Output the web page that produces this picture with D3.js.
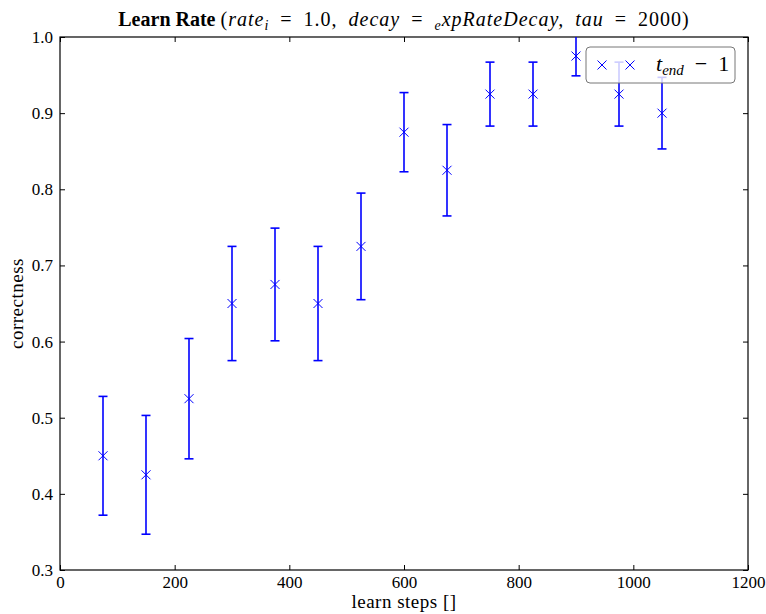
<!DOCTYPE html>
<html>
<head>
<meta charset="utf-8">
<script src="https://cdn.jsdelivr.net/npm/d3@7"></script>
<style>
  body { margin: 0; background: #fff; }
  svg text { font-family: "Liberation Serif", "DejaVu Serif", serif; fill: #000; }
</style>
</head>
<body>
<div id="chart"></div>
<script>
// data
var steps = [75, 150, 225, 300, 375, 450, 525, 600, 675, 750, 825, 900, 975, 1050];
var correctness = [0.45, 0.425, 0.525, 0.65, 0.675, 0.65, 0.725, 0.875, 0.825, 0.925, 0.925, 0.975, 0.925, 0.9];
var errs = [0.078, 0.078, 0.079, 0.075, 0.074, 0.075, 0.07, 0.052, 0.06, 0.042, 0.042, 0.026, 0.042, 0.047];
var xTicks = [0, 200, 400, 600, 800, 1000, 1200];
var yTicks = [0.3, 0.4, 0.5, 0.6, 0.7, 0.8, 0.9, 1.0];

var W = 766, H = 614;
var m = {left: 60, right: 18, top: 37, bottom: 44};
var pw = W - m.left - m.right, ph = H - m.top - m.bottom;
var blue = "#0000ff";
var sp = "\u2002"; // wider space, like math spacing

var svg = d3.select("#chart").append("svg")
  .attr("width", W).attr("height", H);

var x = d3.scaleLinear().domain([0, 1200]).range([0, pw]);
var y = d3.scaleLinear().domain([0.3, 1.0]).range([ph, 0]);

var g = svg.append("g").attr("transform", "translate(" + m.left + "," + m.top + ")");

g.append("clipPath").attr("id", "clip")
  .append("rect").attr("width", pw).attr("height", ph);

// axes, ticks pointing inward on all four sides
function styleAxis(sel){
  sel.select(".domain").remove();
  sel.selectAll(".tick line").attr("stroke", "#000").attr("stroke-width", 1);
  sel.selectAll(".tick text").style("font-size", "17px");
}
g.append("g").attr("transform", "translate(0," + ph + ")")
  .call(d3.axisBottom(x).tickValues(xTicks).tickSize(-5).tickPadding(6).tickFormat(d3.format("d")))
  .call(styleAxis);
g.append("g")
  .call(d3.axisTop(x).tickValues(xTicks).tickSize(-5).tickFormat(""))
  .call(styleAxis);
g.append("g")
  .call(d3.axisLeft(y).tickValues(yTicks).tickSize(-5).tickPadding(7).tickFormat(d3.format(".1f")))
  .call(styleAxis);
g.append("g").attr("transform", "translate(" + pw + ",0)")
  .call(d3.axisRight(y).tickValues(yTicks).tickSize(-5).tickFormat(""))
  .call(styleAxis);

g.append("rect").attr("width", pw).attr("height", ph)
  .attr("fill", "none").attr("stroke", "#000").attr("stroke-width", 1.2);

// error bars + markers
var pts = g.append("g").attr("clip-path", "url(#clip)")
  .selectAll("g").data(steps).enter().append("g");

pts.append("line")
  .attr("x1", function(d){ return x(d); }).attr("x2", function(d){ return x(d); })
  .attr("y1", function(d, i){ return y(correctness[i] + errs[i]); })
  .attr("y2", function(d, i){ return y(correctness[i] - errs[i]); })
  .attr("stroke", blue).attr("stroke-width", 1.6);
[1, -1].forEach(function(s){
  pts.append("line")
    .attr("x1", function(d){ return x(d) - 4.5; }).attr("x2", function(d){ return x(d) + 4.5; })
    .attr("y1", function(d, i){ return y(correctness[i] + s * errs[i]); })
    .attr("y2", function(d, i){ return y(correctness[i] + s * errs[i]); })
    .attr("stroke", blue).attr("stroke-width", 1.6);
});
pts.append("path")
  .attr("d", "M-4.5,-4.5L4.5,4.5M-4.5,4.5L4.5,-4.5")
  .attr("transform", function(d, i){ return "translate(" + x(d) + "," + y(correctness[i]) + ")"; })
  .attr("stroke", blue).attr("stroke-width", 1).attr("fill", "none");

// legend
var lg = svg.append("g").attr("transform", "translate(586,47)");
lg.append("rect").attr("width", 149).attr("height", 36).attr("rx", 4)
  .attr("fill", "#fff").attr("fill-opacity", 0.8)
  .attr("stroke", "#777").attr("stroke-width", 1);
[16, 44].forEach(function(cx){
  lg.append("path").attr("d", "M-4.5,-4.5L4.5,4.5M-4.5,4.5L4.5,-4.5")
    .attr("transform", "translate(" + cx + ",18)")
    .attr("stroke", blue).attr("stroke-width", 1).attr("fill", "none");
});
var lt = lg.append("text").attr("x", 70).attr("y", 24).style("font-size", "22px");
lt.append("tspan").style("font-style", "italic").text("t");
lt.append("tspan").style("font-style", "italic").style("font-size", "15px").attr("dy", 4).text("end");
lt.append("tspan").attr("dy", -4).text(sp + "\u2212" + sp + "1");

// title
var tt = svg.append("text").attr("x", m.left + pw / 2).attr("y", 26)
  .attr("text-anchor", "middle").style("font-size", "20px");
tt.append("tspan").style("font-weight", "bold").text("Learn Rate ");
var mt = function(){ return tt.append("tspan").style("letter-spacing", "1px"); };
mt().text("(");
mt().style("font-style", "italic").text("rate");
mt().style("font-style", "italic").style("font-size", "14px").attr("dy", 4).text("i");
mt().attr("dy", -4).text(sp + "=" + sp + "1.0," + sp);
mt().style("font-style", "italic").text("decay");
mt().text(sp + "=" + sp);
mt().style("font-style", "italic").style("font-size", "14px").attr("dy", 4).text("e");
mt().style("font-style", "italic").attr("dy", -4).text("xpRateDecay,");
mt().text(sp);
mt().style("font-style", "italic").text("tau");
mt().text(sp + "=" + sp + "2000)");

// axis labels
svg.append("text").attr("x", m.left + pw / 2).attr("y", 608)
  .attr("text-anchor", "middle").style("font-size", "19px").style("letter-spacing", "0.5px")
  .text("learn steps []");
svg.append("text").attr("transform", "translate(23," + (m.top + ph / 2) + ") rotate(-90)")
  .attr("text-anchor", "middle").style("font-size", "19px").style("letter-spacing", "0.5px")
  .text("correctness");
</script>
</body>
</html>
